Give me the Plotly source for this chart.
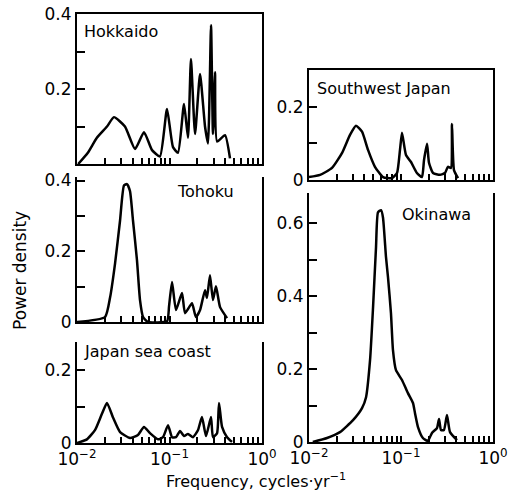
import plotly.graph_objects as go

# ---------------- data (frequency in cycles/yr, power density) ----------------
hok_f = [0.0103, 0.0131, 0.0164, 0.0211, 0.0251, 0.0330, 0.0424, 0.0530, 0.0647, 0.0789,
         0.0940, 0.1091, 0.1236, 0.1435, 0.1585, 0.1706, 0.1888, 0.2138, 0.2421, 0.2606,
         0.2812, 0.2951, 0.3105, 0.3266, 0.3980, 0.4510]
hok_p = [0.0, 0.03, 0.07, 0.10, 0.125, 0.10, 0.04, 0.085, 0.037, 0.02,
         0.147, 0.045, 0.03, 0.16, 0.07, 0.28, 0.08, 0.24, 0.10, 0.055,
         0.37, 0.08, 0.245, 0.06, 0.077, 0.015]

toh_f = [0.0100, 0.0201, 0.0228, 0.0258, 0.0292, 0.0322, 0.0347, 0.0374, 0.0403, 0.0445,
         0.0480, 0.0518, 0.0586, 0.0940, 0.0989, 0.1065, 0.1175, 0.1365, 0.1472, 0.1750,
         0.1930, 0.2140, 0.2420, 0.2540, 0.2740, 0.2950, 0.3180, 0.3520, 0.4190]
toh_p = [0.0, 0.014, 0.07, 0.166, 0.287, 0.386, 0.39, 0.37, 0.287, 0.175,
         0.062, 0.014, 0.0, 0.002, 0.045, 0.113, 0.034, 0.082, 0.025, 0.053,
         0.014, 0.034, 0.09, 0.068, 0.132, 0.062, 0.101, 0.042, 0.011]

jsc_f = [0.0100, 0.0128, 0.0157, 0.0186, 0.0211, 0.0245, 0.0292, 0.0374, 0.0456, 0.0530,
         0.0615, 0.0751, 0.0851, 0.0964, 0.1065, 0.1175, 0.1300, 0.1435, 0.1585, 0.1795,
         0.2030, 0.2244, 0.2480, 0.2810, 0.2950, 0.3266, 0.3430, 0.3700, 0.4190, 0.4740]
jsc_p = [0.0, 0.01, 0.036, 0.08, 0.11, 0.07, 0.03, 0.014, 0.022, 0.044,
         0.027, 0.01, 0.016, 0.049, 0.016, 0.016, 0.033, 0.019, 0.025, 0.016,
         0.035, 0.071, 0.019, 0.071, 0.016, 0.027, 0.11, 0.044, 0.016, 0.003]

swj_f = [0.0100, 0.0132, 0.0178, 0.0229, 0.0279, 0.0324, 0.0377, 0.0438, 0.0521, 0.0637,
         0.0798, 0.0905, 0.0975, 0.1025, 0.1133, 0.1285, 0.1490, 0.1690, 0.1780, 0.1920,
         0.2015, 0.2230, 0.2655, 0.3006, 0.3240, 0.3490, 0.3580, 0.3767, 0.4170]
swj_p = [0.008, 0.014, 0.033, 0.074, 0.123, 0.148, 0.132, 0.082, 0.036, 0.008,
         0.005, 0.019, 0.082, 0.129, 0.068, 0.049, 0.019, 0.008, 0.055, 0.099,
         0.047, 0.019, 0.014, 0.019, 0.036, 0.033, 0.153, 0.027, 0.005]

oki_f = [0.0110, 0.0157, 0.0217, 0.0301, 0.0377, 0.0417, 0.0461, 0.0497, 0.0535, 0.0562,
         0.0607, 0.0637, 0.0687, 0.0722, 0.0778, 0.0818, 0.0882, 0.1025, 0.1190, 0.1350,
         0.1420, 0.1530, 0.1730, 0.1960, 0.2170, 0.2460, 0.2590, 0.2720, 0.2930, 0.3160,
         0.3410, 0.4060]
oki_p = [0.0, 0.011, 0.027, 0.06, 0.093, 0.123, 0.225, 0.37, 0.534, 0.63,
         0.636, 0.616, 0.507, 0.452, 0.353, 0.252, 0.197, 0.17, 0.134, 0.107,
         0.079, 0.041, 0.011, 0.003, 0.025, 0.038, 0.063, 0.033, 0.033, 0.074,
         0.027, 0.005]

panel_names = ["Hokkaido", "Tohoku", "Japan sea coast", "Southwest Japan", "Okinawa"]
x_tick_vals = [0.01 * k for k in range(1, 10)] + [0.1 * k for k in range(1, 10)] + [1.0]
x_tick_labels = ["10<sup>−2</sup>", "10<sup>−1</sup>", "10<sup>0</sup>"]

# ---------------- layout helpers ----------------
W, H = 518, 495
FONT = "DejaVu Sans"

def px_x(a, b):
    return [a / W, b / W]

def px_y(bottom, top):
    return [1 - bottom / H, 1 - top / H]

panels = [
    # name, f, p, xdom(px), ydom(px bottom, top), yrange, ytickvals, yticktext, show xlabels, top line
    ("Hokkaido", hok_f, hok_p, (77, 262), (164, 14), [0, 0.4],
     [0, 0.1, 0.2, 0.3, 0.4], ["", "", "0.2", "", "0.4"], False, True),
    ("Tohoku", toh_f, toh_p, (77, 262), (322, 177), [0, 0.41],
     [0, 0.1, 0.2, 0.3, 0.4], ["0", "", "0.2", "", "0.4"], False, False),
    ("Japan sea coast", jsc_f, jsc_p, (77, 262), (443, 342), [0, 0.277],
     [0, 0.1, 0.2], ["0", "", "0.2"], True, False),
    ("Southwest Japan", swj_f, swj_p, (309, 493), (180, 70), [0, 0.3],
     [0, 0.1, 0.2], ["0", "", "0.2"], False, True),
    ("Okinawa", oki_f, oki_p, (309, 493), (442, 193), [0, 0.683],
     [0, 0.1, 0.2, 0.3, 0.4, 0.5, 0.6], ["0", "", "0.2", "", "0.4", "", "0.6"], True, False),
]

label_pos = {
    "Hokkaido": (82, 32, "left"),
    "Tohoku": (175, 191, "left"),
    "Japan sea coast": (82, 351, "left"),
    "Southwest Japan": (315, 88, "left"),
    "Okinawa": (400, 214, "left"),
}

fig = go.Figure()
layout = dict(
    width=W, height=H,
    margin=dict(l=0, r=0, t=0, b=0),
    paper_bgcolor="white", plot_bgcolor="white",
    showlegend=False,
    font=dict(family=FONT, color="black", size=16),
)
annotations = []

for i, (name, f, p, xd, yd, yr, ytv, ytt, showx, topline) in enumerate(panels, start=1):
    xa = "x" if i == 1 else f"x{i}"
    ya = "y" if i == 1 else f"y{i}"
    fig.add_trace(go.Scatter(x=f, y=p, mode="lines", xaxis=xa, yaxis=ya,
                             line=dict(color="black", width=2.5, shape="spline", smoothing=0.5),
                             hoverinfo="skip"))
    if showx:
        xtt = []
        for v in x_tick_vals:
            if abs(v - 0.01) < 1e-9:
                xtt.append(x_tick_labels[0])
            elif abs(v - 0.1) < 1e-9:
                xtt.append(x_tick_labels[1])
            elif abs(v - 1.0) < 1e-9:
                xtt.append(x_tick_labels[2])
            else:
                xtt.append("")
    else:
        xtt = [""] * len(x_tick_vals)
    layout["xaxis" if i == 1 else f"xaxis{i}"] = dict(
        type="log", range=[-2, 0], domain=px_x(*xd), anchor=ya, automargin=False,
        showline=True, linecolor="black", linewidth=2, mirror=topline,
        ticks="inside", ticklen=6, tickwidth=1.5, tickcolor="black",
        tickvals=x_tick_vals, ticktext=xtt, tickfont=dict(size=17),
        showgrid=False, zeroline=False, fixedrange=True,
    )
    layout["yaxis" if i == 1 else f"yaxis{i}"] = dict(
        range=yr, domain=px_y(*yd), anchor=xa, automargin=False,
        showline=True, linecolor="black", linewidth=2, mirror=True,
        ticks="inside", ticklen=8, tickwidth=1.5, tickcolor="black",
        tickvals=ytv, ticktext=ytt, tickfont=dict(size=17),
        showgrid=False, zeroline=False, fixedrange=True,
    )
    lx, ly, anchor = label_pos[name]
    annotations.append(dict(text=name, x=lx / W, y=1 - ly / H, xref="paper", yref="paper",
                            xanchor=anchor, yanchor="middle", showarrow=False,
                            font=dict(size=16, family=FONT, color="black")))

annotations.append(dict(text="Power density", x=20 / W, y=1 - 271 / H, xref="paper", yref="paper",
                        xanchor="center", yanchor="middle", textangle=-90, showarrow=False,
                        font=dict(size=17, family=FONT, color="black")))
annotations.append(dict(text="Frequency, cycles·yr<sup>−1</sup>", x=256 / W, y=1 - 480 / H,
                        xref="paper", yref="paper", xanchor="center", yanchor="middle",
                        showarrow=False, font=dict(size=16, family=FONT, color="black")))
layout["annotations"] = annotations
fig.update_layout(**layout)
fig.write_html("out.html")
